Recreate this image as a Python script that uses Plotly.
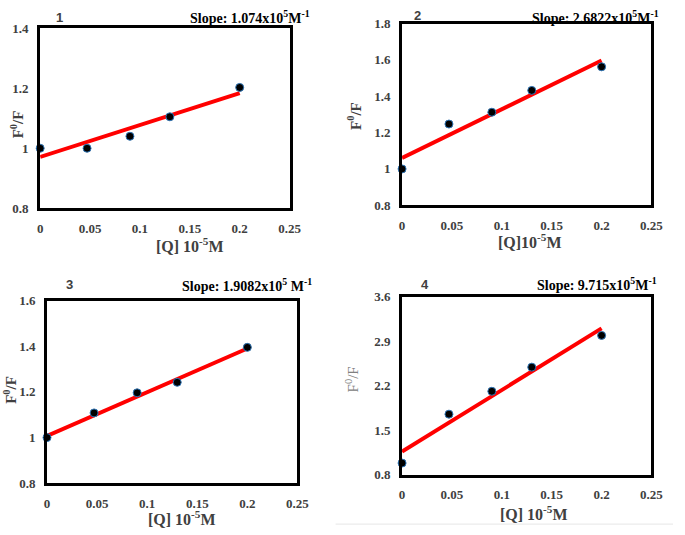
import plotly.graph_objects as go

W, H = 685, 535

conc = [0, 0.047, 0.09, 0.13, 0.2]
ratio_1 = [1.0, 1.0, 1.04, 1.105, 1.203]
ratio_2 = [1.0, 1.247, 1.312, 1.432, 1.562]
ratio_3 = [1.0, 1.108, 1.196, 1.242, 1.395]
ratio_4 = [0.98, 1.75, 2.11, 2.49, 2.99]

fit_x = [0, 0.2]
fit_1 = [0.971, 1.184]
fit_2 = [1.06, 1.597]
fit_3 = [1.007, 1.39]
fit_4 = [1.16, 3.10]

panel_labels = ["1", "2", "3", "4"]
slope_labels = [
    "Slope: 1.074x10<sup>5</sup>M<sup>-1</sup>",
    "Slope: 2.6822x10<sup>5</sup>M<sup>-1</sup>",
    "Slope: 1.9082x10<sup>5</sup> M<sup>-1</sup>",
    "Slope: 9.715x10<sup>5</sup>M<sup>-1</sup>",
]
x_titles = ["[Q] 10<sup>-5</sup>M", "[Q]10<sup>-5</sup>M", "[Q] 10<sup>-5</sup>M", "[Q] 10<sup>-5</sup>M"]
y_title = "F<sup>0</sup>/F"
x_ticks = [0, 0.05, 0.1, 0.15, 0.2, 0.25]
x_ticktext = ["0", "0.05", "0.1", "0.15", "0.2", "0.25"]
y_ticks = [
    [0.8, 1.0, 1.2, 1.4],
    [0.8, 1.0, 1.2, 1.4, 1.6, 1.8],
    [0.8, 1.0, 1.2, 1.4, 1.6],
    [0.8, 1.5, 2.2, 2.9, 3.6],
]
y_ticktext = [
    ["0.8", "1", "1.2", "1.4"],
    ["0.8", "1", "1.2", "1.4", "1.6", "1.8"],
    ["0.8", "1", "1.2", "1.4", "1.6"],
    ["0.8", "1.5", "2.2", "2.9", "3.6"],
]

ratios = [ratio_1, ratio_2, ratio_3, ratio_4]
fits = [fit_1, fit_2, fit_3, fit_4]

# pixel boxes (left, right, top, bottom)
boxes = [(38, 293, 22, 207), (408, 663, 17, 204), (45, 301, 302, 490), (408, 663, 298, 481)]
title_pos = [(58, 11), (424, 9), (68, 286), (431, 285)]
slope_pos = [(316, 10), (673, 10), (318, 286), (671, 285)]
xtitle_pos = [(191, 245), (539, 241), (183, 526), (543, 521)]
ytitle_pos = [(14, 121), (359, 112), (7, 394), (357, 383)]

serif = "Liberation Serif, Times New Roman, serif"
sans = "Liberation Sans, Arial, sans-serif"

fig = go.Figure()
layout = dict(
    width=W, height=H, margin=dict(l=0, r=0, t=0, b=0),
    paper_bgcolor="white", plot_bgcolor="white", showlegend=False,
)
annotations = []


def px(x, y):
    return x / W, 1 - y / H


for i in range(4):
    l, r, t, b = boxes[i]
    xa = "xaxis" if i == 0 else f"xaxis{i+1}"
    ya = "yaxis" if i == 0 else f"yaxis{i+1}"
    xr = "x" if i == 0 else f"x{i+1}"
    yr = "y" if i == 0 else f"y{i+1}"
    fig.add_trace(go.Scatter(
        x=fit_x, y=fits[i], mode="lines", xaxis=xr, yaxis=yr,
        line=dict(color="#ff0000", width=4), cliponaxis=False))
    fig.add_trace(go.Scatter(
        x=conc, y=ratios[i], mode="markers", xaxis=xr, yaxis=yr,
        marker=dict(color="black", size=8, line=dict(color="#2e75b6", width=1)),
        cliponaxis=False))
    layout[xa] = dict(
        domain=[l / W, r / W], anchor=yr, range=[0, 0.25],
        tickvals=x_ticks, ticktext=x_ticktext, ticks="",
        showgrid=False, zeroline=False, showline=True, mirror=True,
        linecolor="black", linewidth=3, ticklabelstandoff=6,
        tickfont=dict(family=serif, size=13, color="#404040", weight="bold"),
    )
    layout[ya] = dict(
        domain=[1 - b / H, 1 - t / H], anchor=xr,
        range=[y_ticks[i][0], y_ticks[i][-1]],
        tickvals=y_ticks[i], ticktext=y_ticktext[i], ticks="",
        showgrid=False, zeroline=False, showline=True, mirror=True,
        linecolor="black", linewidth=3, ticklabelstandoff=6,
        tickfont=dict(family=serif, size=13, color="#404040", weight="bold"),
    )
    tx, ty = px(*title_pos[i])
    annotations.append(dict(
        text=panel_labels[i], x=tx, y=ty, xref="paper", yref="paper",
        xanchor="center", yanchor="middle", showarrow=False,
        font=dict(family=sans, size=13, color="#404040", weight="bold")))
    sx, sy = px(*slope_pos[i])
    annotations.append(dict(
        text=slope_labels[i], x=sx, y=sy, xref="paper", yref="paper",
        xanchor="right", yanchor="middle", showarrow=False,
        font=dict(family=serif, size=14, color="black", weight="bold")))
    ax_, ay_ = px(*xtitle_pos[i])
    annotations.append(dict(
        text=x_titles[i], x=ax_, y=ay_, xref="paper", yref="paper",
        xanchor="center", yanchor="middle", showarrow=False,
        font=dict(family=serif, size=16, color="#404040", weight="bold")))
    yx_, yy_ = px(*ytitle_pos[i])
    annotations.append(dict(
        text=y_title, x=yx_, y=yy_, xref="paper", yref="paper",
        xanchor="center", yanchor="middle", showarrow=False, textangle=-90,
        font=dict(family=serif, size=15, color="#404040" if i < 3 else "#808080",
                  weight="bold" if i < 3 else "normal")))

layout["annotations"] = annotations
layout["shapes"] = [dict(type="line", xref="paper", yref="paper",
                         x0=340 / W, x1=1, y0=1 - 532 / H, y1=1 - 532 / H,
                         line=dict(color="#e6e6e6", width=1))]
fig.update_layout(**layout)
fig.write_html("out.html", config={"displayModeBar": False},
               post_script="document.body.style.margin='0';document.body.style.overflow='hidden';")
